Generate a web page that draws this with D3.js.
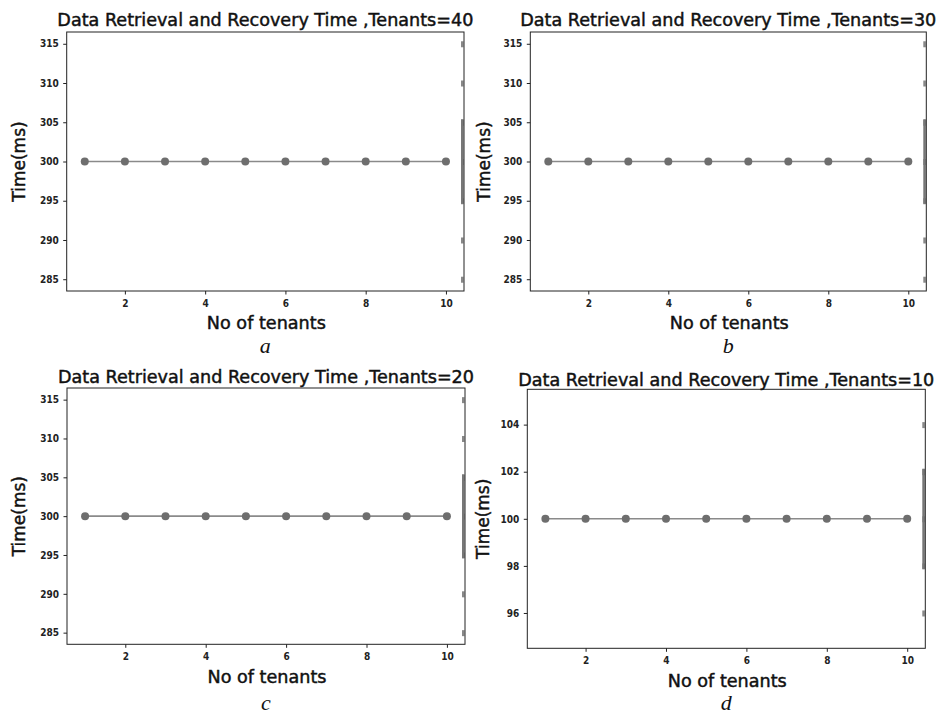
<!DOCTYPE html>
<html>
<head>
<meta charset="utf-8">
<script src="https://cdn.jsdelivr.net/npm/d3@7"></script>
<style>
  body { margin: 0; background: #fff; }
  svg { display: block; }
</style>
</head>
<body>
<svg id="chart" width="941" height="715"></svg>
<script>
// data
var tenants = [1, 2, 3, 4, 5, 6, 7, 8, 9, 10];
var timeT40 = [300, 300, 300, 300, 300, 300, 300, 300, 300, 300];
var timeT30 = [300, 300, 300, 300, 300, 300, 300, 300, 300, 300];
var timeT20 = [300, 300, 300, 300, 300, 300, 300, 300, 300, 300];
var timeT10 = [100, 100, 100, 100, 100, 100, 100, 100, 100, 100];
var xTicks = [2, 4, 6, 8, 10];
var yTicks300 = [285, 290, 295, 300, 305, 310, 315];
var yTicks100 = [96, 98, 100, 102, 104];
var titles = [
  "Data Retrieval and Recovery Time ,Tenants=40",
  "Data Retrieval and Recovery Time ,Tenants=30",
  "Data Retrieval and Recovery Time ,Tenants=20",
  "Data Retrieval and Recovery Time ,Tenants=10"
];
var letters = ["a", "b", "c", "d"];

var svg = d3.select("#chart");

var panels = [
  { box: [66.7, 464, 32, 291],    values: timeT40, ticks: yTicks300, title: titles[0], letter: letters[0], titleY: 26,  xlabY: 329, letY: 353, ylabX: 25 },
  { box: [530.3, 926.3, 32, 291], values: timeT30, ticks: yTicks300, title: titles[1], letter: letters[1], titleY: 26,  xlabY: 329, letY: 353, ylabX: 490 },
  { box: [67, 465, 388, 644.3],   values: timeT20, ticks: yTicks300, title: titles[2], letter: letters[2], titleY: 383, xlabY: 683, letY: 710, ylabX: 25 },
  { box: [527.3, 925.3, 389.3, 648.3], values: timeT10, ticks: yTicks100, title: titles[3], letter: letters[3], titleY: 386, xlabY: 687, letY: 710, ylabX: 489 }
];

// matplotlib style autoscale: expand a flat range, then add 5% margins
function autoDomain(vals) {
  var lo = d3.min(vals), hi = d3.max(vals);
  if (lo === hi) { var e = 0.05 * Math.abs(lo) || 1; lo -= e; hi += e; }
  var m = (hi - lo) * 0.05;
  return [lo - m, hi + m];
}

panels.forEach(function(p) {
  var left = p.box[0], right = p.box[1], top = p.box[2], bottom = p.box[3];
  var cx = (left + right) / 2;

  var x = d3.scaleLinear().domain(autoDomain(tenants)).range([left, right]);
  var y = d3.scaleLinear().domain(autoDomain(p.values)).range([bottom, top]);

  var g = svg.append("g");

  // stray marks on the right spine
  g.append("g")
      .attr("transform", "translate(" + (right - 2) + ",0)")
      .call(d3.axisRight(y).tickValues(p.ticks).tickSize(0).tickFormat(""))
      .call(function(s) { s.select(".domain").remove(); })
      .selectAll(".tick").append("rect")
        .attr("x", -1).attr("y", -3).attr("width", 2.5).attr("height", 6)
        .attr("fill", "#888");
  var mid = p.ticks.length > 5 ? [295, 305] : [98, 102];
  g.append("rect")
      .attr("x", right - 3).attr("width", 2.5)
      .attr("y", y(mid[1]) - 3).attr("height", y(mid[0]) - y(mid[1]) + 6)
      .attr("fill", "#777");

  var line = d3.line()
      .x(function(d, i) { return x(tenants[i]); })
      .y(function(d) { return y(d); });

  g.append("path")
      .datum(p.values)
      .attr("fill", "none")
      .attr("stroke", "#8a8a8a")
      .attr("stroke-width", 1.6)
      .attr("d", line);

  g.selectAll("circle")
      .data(p.values)
      .enter().append("circle")
        .attr("cx", function(d, i) { return x(tenants[i]); })
        .attr("cy", function(d) { return y(d); })
        .attr("r", 4)
        .attr("fill", "#6e6e6e");

  // frame
  g.append("rect")
      .attr("x", left).attr("y", top)
      .attr("width", right - left).attr("height", bottom - top)
      .attr("fill", "none")
      .attr("stroke", "#222")
      .attr("stroke-width", 1);

  var xAxis = g.append("g")
      .attr("transform", "translate(0," + bottom + ")")
      .call(d3.axisBottom(x).tickValues(xTicks).tickSize(3.5).tickPadding(5).tickFormat(d3.format("d")));
  var yAxis = g.append("g")
      .attr("transform", "translate(" + left + ",0)")
      .call(d3.axisLeft(y).tickValues(p.ticks).tickSize(3.5).tickPadding(4.5).tickFormat(d3.format("d")));
  [xAxis, yAxis].forEach(function(a) {
    a.select(".domain").remove();
    a.selectAll(".tick line").attr("stroke", "#222");
    a.selectAll(".tick text")
        .attr("font-family", "DejaVu Sans Condensed, DejaVu Sans, sans-serif")
        .attr("font-weight", "bold")
        .attr("font-size", 10)
        .attr("fill", "#222");
  });

  g.append("text")
      .attr("x", cx).attr("y", p.titleY)
      .attr("text-anchor", "middle")
      .attr("font-family", "DejaVu Sans, sans-serif")
      .attr("font-size", 17)
      .attr("fill", "#111")
      .attr("stroke", "#111")
      .attr("stroke-width", 0.45)
      .attr("textLength", 416)
      .attr("lengthAdjust", "spacingAndGlyphs")
      .text(p.title);

  g.append("text")
      .attr("x", cx + 1).attr("y", p.xlabY)
      .attr("text-anchor", "middle")
      .attr("font-family", "DejaVu Sans, sans-serif")
      .attr("font-size", 17)
      .attr("fill", "#111")
      .attr("stroke", "#111")
      .attr("stroke-width", 0.45)
      .attr("textLength", 119)
      .attr("lengthAdjust", "spacingAndGlyphs")
      .text("No of tenants");

  g.append("text")
      .attr("transform", "translate(" + p.ylabX + "," + ((top + bottom) / 2) + ") rotate(-90)")
      .attr("text-anchor", "middle")
      .attr("font-family", "DejaVu Sans, sans-serif")
      .attr("font-size", 17)
      .attr("fill", "#111")
      .attr("stroke", "#111")
      .attr("stroke-width", 0.45)
      .text("Time(ms)");

  g.append("text")
      .attr("x", cx).attr("y", p.letY)
      .attr("text-anchor", "middle")
      .attr("font-family", "Liberation Serif, Times New Roman, serif")
      .attr("font-style", "italic")
      .attr("font-size", 22)
      .attr("fill", "#111")
      .text(p.letter);
});
</script>
</body>
</html>
